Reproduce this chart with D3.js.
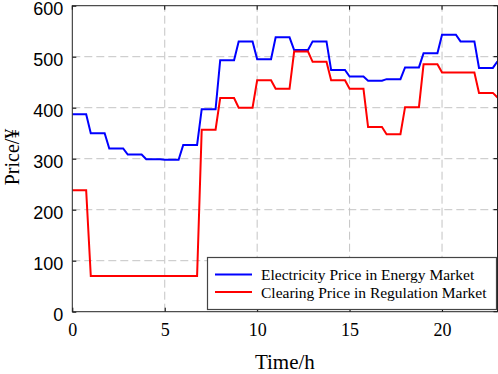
<!DOCTYPE html>
<html><head><meta charset="utf-8">
<script src="https://cdn.jsdelivr.net/npm/d3@7"></script>
<style>body{margin:0;background:#fff}svg{display:block}</style>
</head><body>
<svg id="c" width="498" height="374"></svg>
<script>
const hours = d3.range(0, 24);
const energyPrice = [387,350,320,308,299,298,327,397,493,530,495,538,513,530,474,461,453,456,479,507,543,530,478,491];
const regulationPrice = [238,70,70,70,70,70,70,357,419,400,454,437,510,490,454,437,362,348,401,485,469,469,429,420];
const xTicks = [0,5,10,15,20];
const yTicks = [0,100,200,300,400,500,600];
const seriesNames = ["Electricity Price in Energy Market","Clearing Price in Regulation Market"];
const colors = ["#0000ff","#ff0000"];

const svg = d3.select("#c");
const x = d3.scaleLinear().domain([0,23]).range([72.3,497.5]);
const y = d3.scaleLinear().domain([0,600]).range([311.7,5.7]);

// grid
const grid = svg.append("g").attr("stroke","#c4c4c4").attr("stroke-width",1).attr("stroke-dasharray","8,4");
xTicks.slice(1).forEach(t=>grid.append("line").attr("x1",x(t)).attr("x2",x(t)).attr("y1",y(0)).attr("y2",y(600)));
yTicks.slice(1,-1).forEach(t=>grid.append("line").attr("x1",x(0)).attr("x2",x(23)).attr("y1",y(t)).attr("y2",y(t)));

// step-like points (hourly values held for 45 min, 15 min transition)
function pts(vals){
  const p=[];
  hours.forEach((h,i)=>{p.push([h,vals[i]]); if(h<23) p.push([h+0.75,vals[i]]);});
  return p;
}
svg.append("clipPath").attr("id","clip").append("rect")
  .attr("x",x(0)).attr("y",y(600)).attr("width",x(23)-x(0)).attr("height",y(0)-y(600));
const line = d3.line().x(d=>x(d[0])).y(d=>y(d[1]));
[energyPrice, regulationPrice].forEach((s,i)=>{
  svg.append("path").attr("d",line(pts(s))).attr("fill","none").attr("stroke",colors[i])
    .attr("stroke-width",2).attr("clip-path","url(#clip)");
});

// axes
const xb = svg.append("g").attr("transform",`translate(0,${y(0)})`)
  .call(d3.axisBottom(x).tickValues(xTicks).tickSizeInner(-4).tickSizeOuter(0).tickPadding(12));
xb.selectAll("text").attr("font-family","'Liberation Serif','Times New Roman',serif").attr("font-size",18).attr("fill","#000");
const yl = svg.append("g").attr("transform",`translate(${x(0)},0)`)
  .call(d3.axisLeft(y).tickValues(yTicks).tickSizeInner(-4).tickSizeOuter(0).tickPadding(9));
yl.selectAll("text").attr("font-family","'Liberation Sans',Arial,sans-serif").attr("font-size",18).attr("fill","#000")
  .attr("dy","0.47em");
svg.selectAll(".domain").remove();
svg.selectAll(".tick line").attr("stroke","#000");
// top/right ticks
const tr = svg.append("g").attr("stroke","#000");
xTicks.forEach(t=>tr.append("line").attr("x1",x(t)).attr("x2",x(t)).attr("y1",y(600)).attr("y2",y(600)+4));
yTicks.forEach(t=>tr.append("line").attr("x1",x(23)).attr("x2",x(23)-4).attr("y1",y(t)).attr("y2",y(t)));
// frame
svg.append("rect").attr("x",x(0)).attr("y",y(600)).attr("width",x(23)-x(0)).attr("height",y(0)-y(600))
  .attr("fill","none").attr("stroke","#222").attr("stroke-width",1);

// legend
const lg = svg.append("g");
lg.append("rect").attr("x",207.5).attr("y",257.5).attr("width",289).attr("height",52)
  .attr("fill","#fff").attr("stroke","#444").attr("stroke-width",1.2);
seriesNames.forEach((n,i)=>{
  const yy = 274.5 + i*17.5;
  lg.append("line").attr("x1",215).attr("x2",252).attr("y1",yy).attr("y2",yy).attr("stroke",colors[i]).attr("stroke-width",2);
  lg.append("text").attr("x",261).attr("y",yy+5.5).text(n)
    .attr("font-family","'Liberation Serif','Times New Roman',serif").attr("font-size",15.5).attr("fill","#000");
});

// axis labels
svg.append("text").attr("x",(x(0)+x(23))/2).attr("y",368.5).attr("text-anchor","middle")
  .attr("font-family","'Liberation Serif','Times New Roman',serif").attr("font-size",21).text("Time/h");
svg.append("text").attr("transform",`translate(18.5,157) rotate(-90)`).attr("text-anchor","middle")
  .attr("font-family","'Liberation Serif','Times New Roman',serif").attr("font-size",20).text("Price/¥");
</script>
</body></html>
